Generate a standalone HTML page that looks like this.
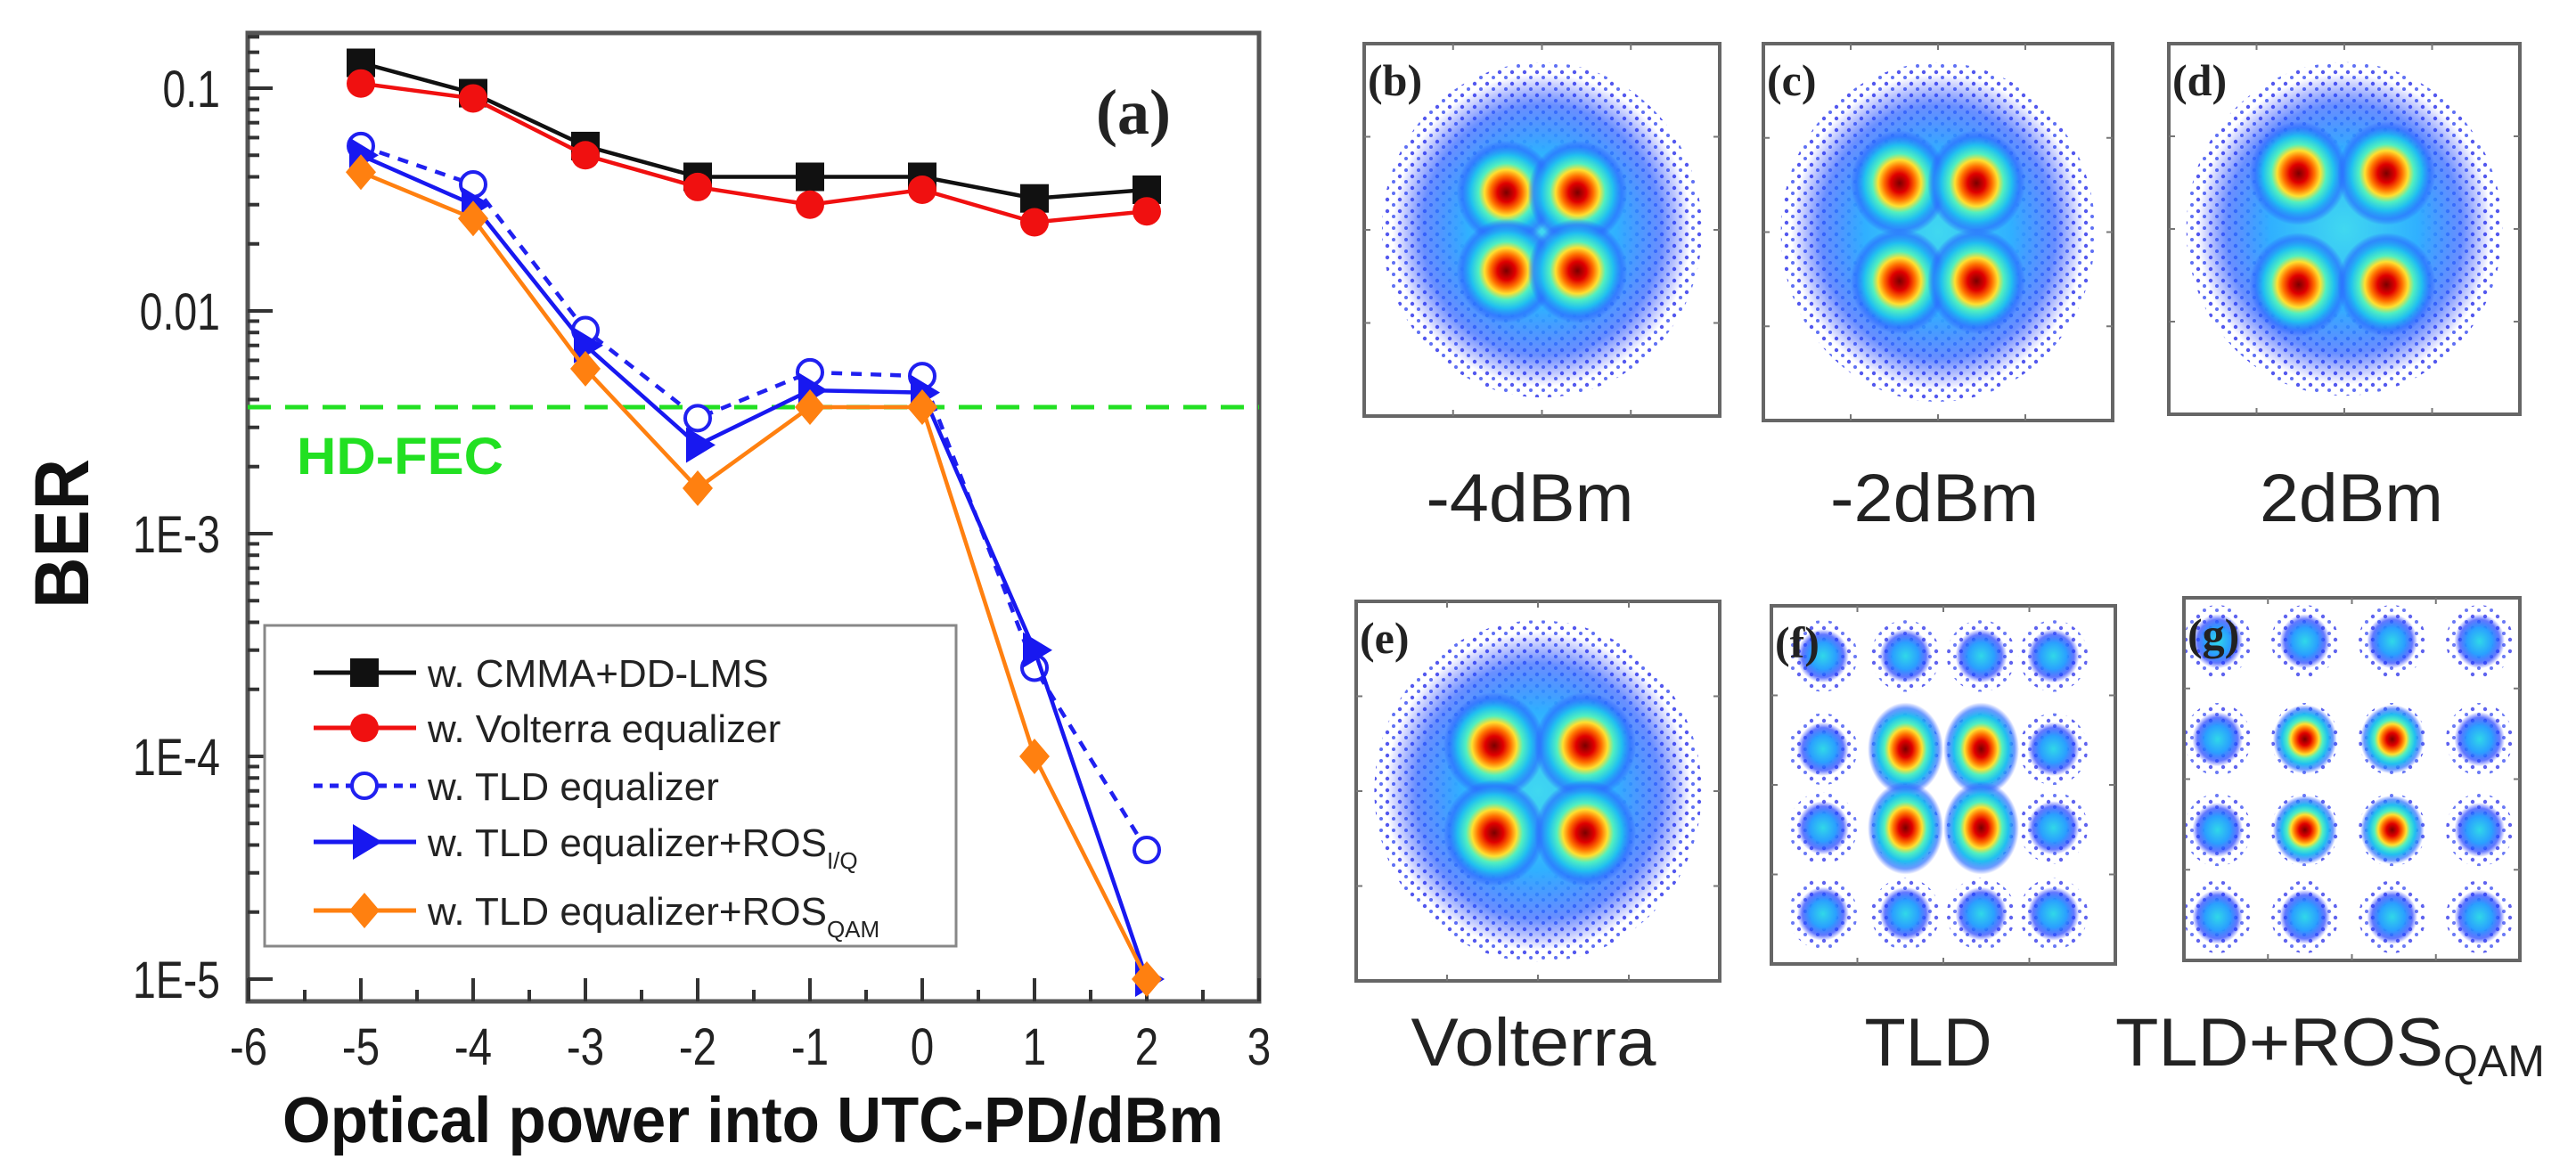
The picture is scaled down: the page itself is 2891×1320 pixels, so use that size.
<!DOCTYPE html>
<html><head><meta charset="utf-8"><style>
html,body{margin:0;padding:0;background:#fff;}
svg{display:block;font-family:"Liberation Sans",sans-serif;}
</style></head><body>
<svg id="fig" width="2891" height="1320" viewBox="0 0 2891 1320" xmlns="http://www.w3.org/2000/svg">
<defs>
<radialGradient id="jet">
<stop offset="0" stop-color="#7a0000"/>
<stop offset="0.18" stop-color="#e00000"/>
<stop offset="0.32" stop-color="#ff7000"/>
<stop offset="0.44" stop-color="#ffe030"/>
<stop offset="0.56" stop-color="#50f0c0"/>
<stop offset="0.72" stop-color="#20c0f0"/>
<stop offset="0.88" stop-color="#2a70ff" stop-opacity="0.7"/>
<stop offset="1" stop-color="#2a50ff" stop-opacity="0"/>
</radialGradient>
<radialGradient id="cyanblob">
<stop offset="0" stop-color="#30d8e8"/>
<stop offset="0.5" stop-color="#2aa0ff"/>
<stop offset="0.8" stop-color="#2040ff" stop-opacity="0.7"/>
<stop offset="1" stop-color="#2030ff" stop-opacity="0"/>
</radialGradient>
<radialGradient id="cloud">
<stop offset="0" stop-color="#40d8f0"/>
<stop offset="0.5" stop-color="#30b0ff"/>
<stop offset="0.8" stop-color="#2860ff" stop-opacity="0.7"/>
<stop offset="1" stop-color="#2030ff" stop-opacity="0"/>
</radialGradient>
<pattern id="dots" width="14" height="13" patternUnits="userSpaceOnUse">
<circle cx="3" cy="3" r="2.2" fill="#1a20e8"/>
<circle cx="10" cy="9" r="2" fill="#2a40f0"/>
</pattern>
</defs>
<g id="chart"></g>
<g id="panels"></g>
</svg>
<script>
const NS="http://www.w3.org/2000/svg";
const xs=[-5,-4,-3,-2,-1,0,1,2];
const berCmma=[0.13,0.095,0.055,0.04,0.04,0.04,0.032,0.035];
const berVolterra=[0.105,0.09,0.05,0.036,0.03,0.035,0.025,0.028];
const berTld=[0.055,0.037,0.0082,0.0033,0.0053,0.0051,0.00025,0.000038];
const berTldIQ=[0.05,0.03,0.007,0.0025,0.0044,0.0043,0.0003,0.00001];
const berTldQAM=[0.042,0.026,0.0055,0.0016,0.0037,0.0037,0.0001,0.00001];
const hdFec=0.0037;
const xTicks=[-6,-5,-4,-3,-2,-1,0,1,2,3];
const yTickVals=[0.1,0.01,0.001,0.0001,0.00001];
const yTickLabels=["0.1","0.01","1E-3","1E-4","1E-5"];

const L=278,R=1413,T=37,B=1124;
const X=v=>279+(v+6)*126;
const Y=v=>99+(Math.log10(0.1)-Math.log10(v))*250;
const chart=document.getElementById('chart');
function mk(tag,attrs,parent){const e=document.createElementNS(NS,tag);for(const k in attrs)e.setAttribute(k,attrs[k]);(parent||chart).appendChild(e);return e;}

const frame=mk('rect',{x:L,y:T,width:R-L,height:B-T,fill:'none',stroke:'#555','stroke-width':5});


xTicks.forEach((v,i)=>{
  const t=mk('line',{x1:X(v),x2:X(v),y1:B,y2:B-26,stroke:'#333','stroke-width':4});
  
  
  if(i<xTicks.length-1){mk('line',{x1:X(v+0.5),x2:X(v+0.5),y1:B,y2:B-13,stroke:'#333','stroke-width':4});}
  const lb=mk('text',{x:X(v),y:1195,'font-size':58,'text-anchor':'middle',fill:'#222',transform:`translate(${X(v)},0) scale(0.82,1) translate(${-X(v)},0)`});
  lb.textContent=v;
  
  
});
yTickVals.forEach((v,i)=>{
  const t=mk('line',{x1:L,x2:L+28,y1:Y(v),y2:Y(v),stroke:'#333','stroke-width':4});
  
  
  if(i>0){for(let m=2;m<=9;m++){const yy=Y(v*m);mk('line',{x1:L,x2:L+13,y1:yy,y2:yy,stroke:'#333','stroke-width':4});}}
  const lb=mk('text',{x:247,y:Y(v)+21,'font-size':58,'text-anchor':'end',fill:'#222',transform:`translate(247,0) scale(0.8,1) translate(-247,0)`});
  lb.textContent=yTickLabels[i];
  
  
});
for(let m=1.2;m<=1.75;m+=0.25){const yy=Y(0.1*m);mk('line',{x1:L,x2:L+13,y1:yy,y2:yy,stroke:'#333','stroke-width':4});}
const fec=mk('line',{x1:L,x2:R,y1:Y(hdFec),y2:Y(hdFec),stroke:'#22e022','stroke-width':5,'stroke-dasharray':'26 16'});


const fecT=mk('text',{x:333,y:532,'font-size':58,'font-weight':'bold',fill:'#22e022',textLength:232,lengthAdjust:'spacingAndGlyphs'});
fecT.textContent='HD-FEC';


const pa=mk('text',{x:1230,y:150,'font-size':72,'font-weight':'bold','font-family':'Liberation Serif,serif',fill:'#222'});
pa.textContent='(a)';



function marker(type,x,y,color,parent){
  let e;
  if(type==='square')e=mk('rect',{x:x-16,y:y-16,width:32,height:32,fill:color},parent);
  else if(type==='circle')e=mk('circle',{cx:x,cy:y,r:16,fill:color},parent);
  else if(type==='open')e=mk('circle',{cx:x,cy:y,r:14,fill:'#fff',stroke:color,'stroke-width':4},parent);
  else if(type==='tri')e=mk('polygon',{points:`${x-13},${y-20} ${x+20},${y} ${x-13},${y+20}`,fill:color},parent);
  else e=mk('polygon',{points:`${x},${y-20} ${x+17},${y} ${x},${y+20} ${x-17},${y}`,fill:color},parent);
  return e;
}
const series=[
 {name:'cmma',vals:berCmma,color:'#111',m:'square',dash:null,label:'w. CMMA+DD-LMS',sub:''},
 {name:'volterra',vals:berVolterra,color:'#f01010',m:'circle',dash:null,label:'w. Volterra equalizer',sub:''},
 {name:'tld',vals:berTld,color:'#2020f0',m:'open',dash:'12 10',label:'w. TLD equalizer',sub:''},
 {name:'tld-ros-iq',vals:berTldIQ,color:'#1818f0',m:'tri',dash:null,label:'w. TLD equalizer+ROS',sub:'I/Q'},
 {name:'tld-ros-qam',vals:berTldQAM,color:'#ff8010',m:'diamond',dash:null,label:'w. TLD equalizer+ROS',sub:'QAM'}
];
series.forEach(s=>{
  const g=mk('g',{});
  
  
  const pts=s.vals.map((v,i)=>X(xs[i])+','+Y(v)).join(' ');
  const pl=mk('polyline',{points:pts,fill:'none',stroke:s.color,'stroke-width':4.5},g);
  if(s.dash)pl.setAttribute('stroke-dasharray',s.dash);
  
  
  s.vals.forEach((v,i)=>{
    const m=marker(s.m,X(xs[i]),Y(v),s.color,g);
    
    
  });
});
const lg=mk('g',{});


mk('rect',{x:297,y:702,width:776,height:360,fill:'#fff',stroke:'#888','stroke-width':3},lg);
const legY=[755,817,882,945,1022];
series.forEach((s,i)=>{
  const e=mk('g',{},lg);
  
  
  const ln=mk('line',{x1:352,x2:467,y1:legY[i],y2:legY[i],stroke:s.color,'stroke-width':5},e);
  if(s.dash)ln.setAttribute('stroke-dasharray','10 8');
  marker(s.m,409,legY[i],s.color,e);
  const t=mk('text',{x:480,y:legY[i]+16,'font-size':44,fill:'#222'},e);
  t.textContent=s.label;
  if(s.sub){const ts=mk('tspan',{'font-size':26,dy:14},t);ts.textContent=s.sub;}
});
const xt=mk('text',{x:317,y:1282,'font-size':72,'font-weight':'bold',fill:'#111',textLength:1056,lengthAdjust:'spacingAndGlyphs'});
xt.textContent='Optical power into UTC-PD/dBm';


const yt=mk('text',{x:0,y:0,'font-size':86,'font-weight':'bold',fill:'#111','text-anchor':'middle',textLength:168,lengthAdjust:'spacingAndGlyphs',transform:'translate(99,599) rotate(-90)'});
yt.textContent='BER';



const P=document.getElementById('panels');
const panels=[
 {id:'b',x:1531,y:49,w:399,h:418,kind:'qpsk',bx:[0.40,0.60],by:[0.40,0.61]},
 {id:'c',x:1979,y:49,w:392,h:423,kind:'qpsk',bx:[0.39,0.61],by:[0.37,0.63]},
 {id:'d',x:2434,y:49,w:394,h:416,kind:'qpsk',bx:[0.37,0.62],by:[0.35,0.65]},
 {id:'e',x:1522,y:675,w:408,h:426,kind:'qpsk',bx:[0.38,0.63],by:[0.38,0.61]},
 {id:'f',x:1988,y:680,w:386,h:402,kind:'16',bx:[0.15,0.39,0.61,0.82],by:[0.14,0.40,0.62,0.86]},
 {id:'g',x:2451,y:671,w:377,h:407,kind:'16',bx:[0.10,0.36,0.62,0.88],by:[0.12,0.39,0.64,0.88]}
];
panels.forEach(p=>{
  const g=mk('g',{},P);
  
  
  const cid='clip'+p.id;
  const cp=mk('clipPath',{id:cid},g);mk('rect',{x:p.x,y:p.y,width:p.w,height:p.h},cp);
  const inner=mk('g',{'clip-path':`url(#${cid})`},g);
  if(p.kind==='qpsk'){
    const cx=p.x+p.w/2,cy=p.y+p.h/2;
    mk('ellipse',{cx,cy,rx:p.w*0.45,ry:p.h*0.45,fill:'url(#dots)',opacity:0.75},inner);
    mk('ellipse',{cx,cy,rx:p.w*0.42,ry:p.h*0.42,fill:'url(#cloud)'},inner);
    p.bx.forEach(fx=>p.by.forEach(fy=>{
      mk('ellipse',{cx:p.x+fx*p.w,cy:p.y+fy*p.h,rx:p.w*0.14,ry:p.h*0.14,fill:'url(#jet)'},inner);
    }));
  } else {
    p.bx.forEach((fx,i)=>p.by.forEach((fy,j)=>{
      const inn=(i===1||i===2)&&(j===1||j===2);
      const x=p.x+fx*p.w,y=p.y+fy*p.h;
      mk('ellipse',{cx:x,cy:y,rx:p.w*0.1,ry:p.h*0.1,fill:'url(#dots)',opacity:0.7},inner);
      if(inn)mk('ellipse',{cx:x,cy:y,rx:p.w*(p.id==='f'?0.11:0.095),ry:p.h*(p.id==='f'?0.13:0.095),fill:'url(#jet)'},inner);
      else mk('ellipse',{cx:x,cy:y,rx:p.w*0.075,ry:p.h*0.075,fill:'url(#cyanblob)'},inner);
    }));
  }
  const br=mk('rect',{x:p.x,y:p.y,width:p.w,height:p.h,fill:'none',stroke:'#666','stroke-width':4},g);
  
  
  for(let k=1;k<4;k++){
    mk('line',{x1:p.x+p.w*k/4,x2:p.x+p.w*k/4,y1:p.y,y2:p.y+7,stroke:'#777','stroke-width':2},g);
    mk('line',{x1:p.x+p.w*k/4,x2:p.x+p.w*k/4,y1:p.y+p.h,y2:p.y+p.h-7,stroke:'#777','stroke-width':2},g);
    mk('line',{x1:p.x,x2:p.x+7,y1:p.y+p.h*k/4,y2:p.y+p.h*k/4,stroke:'#777','stroke-width':2},g);
    mk('line',{x1:p.x+p.w,x2:p.x+p.w-7,y1:p.y+p.h*k/4,y2:p.y+p.h*k/4,stroke:'#777','stroke-width':2},g);
  }
  const t=mk('text',{x:p.x+4,y:p.y+58,'font-size':50,'font-weight':'bold','font-family':'Liberation Serif,serif',fill:'#222'},g);
  t.textContent='('+p.id+')';
  
  
});
const caps=[
 {t:'-4dBm',x:1717,y:585,w:233},{t:'-2dBm',x:2171,y:585,w:234},{t:'2dBm',x:2639,y:585,w:206},
 {t:'Volterra',x:1721,y:1196,w:275},{t:'TLD',x:2164,y:1196,w:143}
];
caps.forEach(c=>{
  const e=mk('text',{x:c.x,y:c.y,'font-size':76,'text-anchor':'middle',fill:'#222',textLength:c.w,lengthAdjust:'spacingAndGlyphs'},P);
  e.textContent=c.t;
  
  
});
const q=mk('text',{x:2374,y:1196,'font-size':76,fill:'#222'},P);


const q1=mk('tspan',{textLength:368,lengthAdjust:'spacingAndGlyphs'},q);q1.textContent='TLD+ROS';
const q2=mk('tspan',{'font-size':50,dy:12,textLength:114,lengthAdjust:'spacingAndGlyphs'},q);q2.textContent='QAM';
</script>
</body></html>
